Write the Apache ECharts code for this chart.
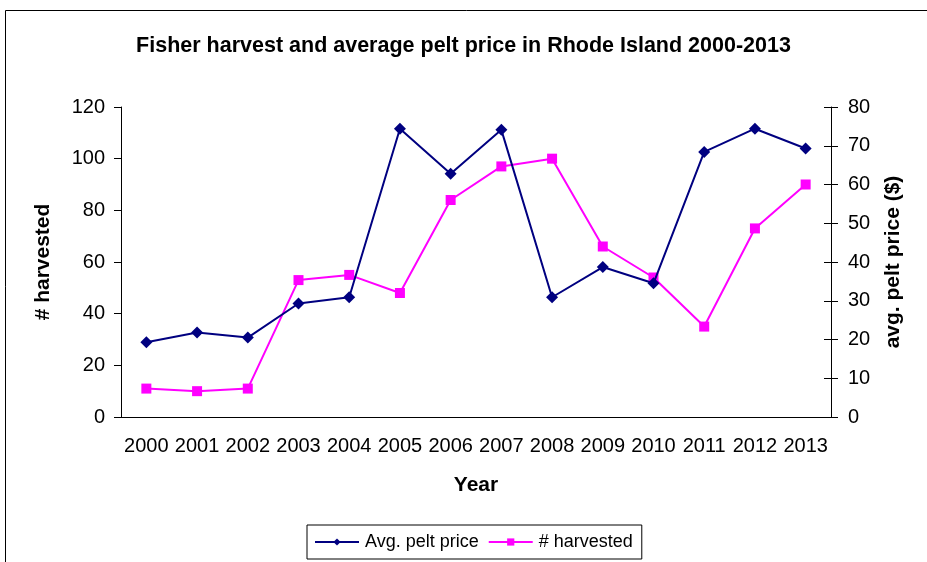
<!DOCTYPE html>
<html>
<head>
<meta charset="utf-8">
<script src="https://cdn.jsdelivr.net/npm/echarts@6/dist/echarts.min.js"></script>
<style>
  html, body { margin: 0; padding: 0; background: #fff; }
  #chart { width: 927px; height: 562px; }
</style>
</head>
<body>
<div id="chart"></div>
<script>
// Fisher harvest counts and average pelt price, Rhode Island
const years = ['2000','2001','2002','2003','2004','2005','2006','2007','2008','2009','2010','2011','2012','2013'];
const harvested = [11, 10, 11, 53, 55, 48, 84, 97, 100, 66, 54, 35, 73, 90];
const peltPrice = [19.3, 21.8, 20.5, 29.3, 30.9, 74.4, 62.8, 74.1, 30.9, 38.7, 34.5, 68.4, 74.4, 69.3];

const FONT = 'Liberation Sans, Arial, sans-serif';
const NAVY = '#000080';
const MAGENTA = '#ff00ff';

const chart = echarts.init(document.getElementById('chart'), null, { renderer: 'canvas' });

chart.setOption({
  animation: false,
  backgroundColor: '#ffffff',
  textStyle: { fontFamily: FONT, color: '#000' },
  graphic: [{
    type: 'rect',
    shape: { x: 5.5, y: 10.5, width: 1000, height: 1000 },
    style: { fill: 'none', stroke: '#000', lineWidth: 1 },
    silent: true
  }],
  title: {
    text: 'Fisher harvest and average pelt price in Rhode Island 2000-2013',
    left: 'center',
    top: 30,
    textStyle: { fontFamily: FONT, fontSize: 21.5, fontWeight: 'bold', color: '#000' }
  },
  legend: {
    left: 307,
    top: 525,
    padding: [8, 9, 8, 7],
    itemGap: 9,
    itemWidth: 44,
    itemHeight: 9,
    borderColor: '#000',
    borderWidth: 1,
    textStyle: { fontFamily: FONT, fontSize: 18, color: '#000', padding: [0, 0, 0, 1] },
    data: ['Avg. pelt price', '# harvested']
  },
  grid: { left: 121, right: 96, top: 107, bottom: 145, containLabel: false },
  xAxis: {
    type: 'category',
    data: years,
    boundaryGap: true,
    name: 'Year',
    nameLocation: 'middle',
    nameGap: 58,
    nameTextStyle: { fontFamily: FONT, fontSize: 21, fontWeight: 'bold', color: '#000' },
    axisLine: { lineStyle: { color: '#000', width: 1 } },
    axisTick: { show: false },
    axisLabel: { fontFamily: FONT, fontSize: 20, color: '#000', margin: 19, interval: 0 },
    splitLine: { show: false }
  },
  yAxis: [
    {
      type: 'value',
      min: 0, max: 120, interval: 20,
      position: 'left',
      name: '# harvested',
      nameLocation: 'middle',
      nameRotate: 90,
      nameGap: 67,
      nameTextStyle: { fontFamily: FONT, fontSize: 21, fontWeight: 'bold', color: '#000' },
      axisLine: { show: true, lineStyle: { color: '#000', width: 1 } },
      axisTick: { show: true, length: 7, lineStyle: { color: '#000' } },
      axisLabel: { fontFamily: FONT, fontSize: 20, color: '#000', margin: 16 },
      splitLine: { show: false }
    },
    {
      type: 'value',
      min: 0, max: 80, interval: 10,
      position: 'right',
      name: 'avg. pelt price ($)',
      nameLocation: 'middle',
      nameRotate: 90,
      nameGap: 52,
      nameTextStyle: { fontFamily: FONT, fontSize: 21, fontWeight: 'bold', color: '#000' },
      axisLine: { show: true, lineStyle: { color: '#000', width: 1 } },
      axisTick: { show: true, length: 7, lineStyle: { color: '#000' } },
      axisLabel: { fontFamily: FONT, fontSize: 20, color: '#000', margin: 17 },
      splitLine: { show: false }
    },
    {
      // inner half of the crossing ticks on the right axis
      type: 'value',
      min: 0, max: 80, interval: 10,
      position: 'right',
      axisLine: { show: false },
      axisTick: { show: true, inside: true, length: 7, lineStyle: { color: '#000' } },
      axisLabel: { show: false },
      splitLine: { show: false }
    }
  ],
  series: [
    {
      name: 'Avg. pelt price',
      type: 'line',
      yAxisIndex: 1,
      data: peltPrice,
      symbol: 'diamond',
      symbolSize: 12,
      showAllSymbol: true,
      lineStyle: { color: NAVY, width: 2 },
      itemStyle: { color: NAVY, borderWidth: 0 },
      z: 3
    },
    {
      name: '# harvested',
      type: 'line',
      yAxisIndex: 0,
      data: harvested,
      symbol: 'rect',
      symbolSize: 10,
      showAllSymbol: true,
      lineStyle: { color: MAGENTA, width: 2 },
      itemStyle: { color: MAGENTA, borderWidth: 0 },
      z: 2
    }
  ]
});
</script>
</body>
</html>
